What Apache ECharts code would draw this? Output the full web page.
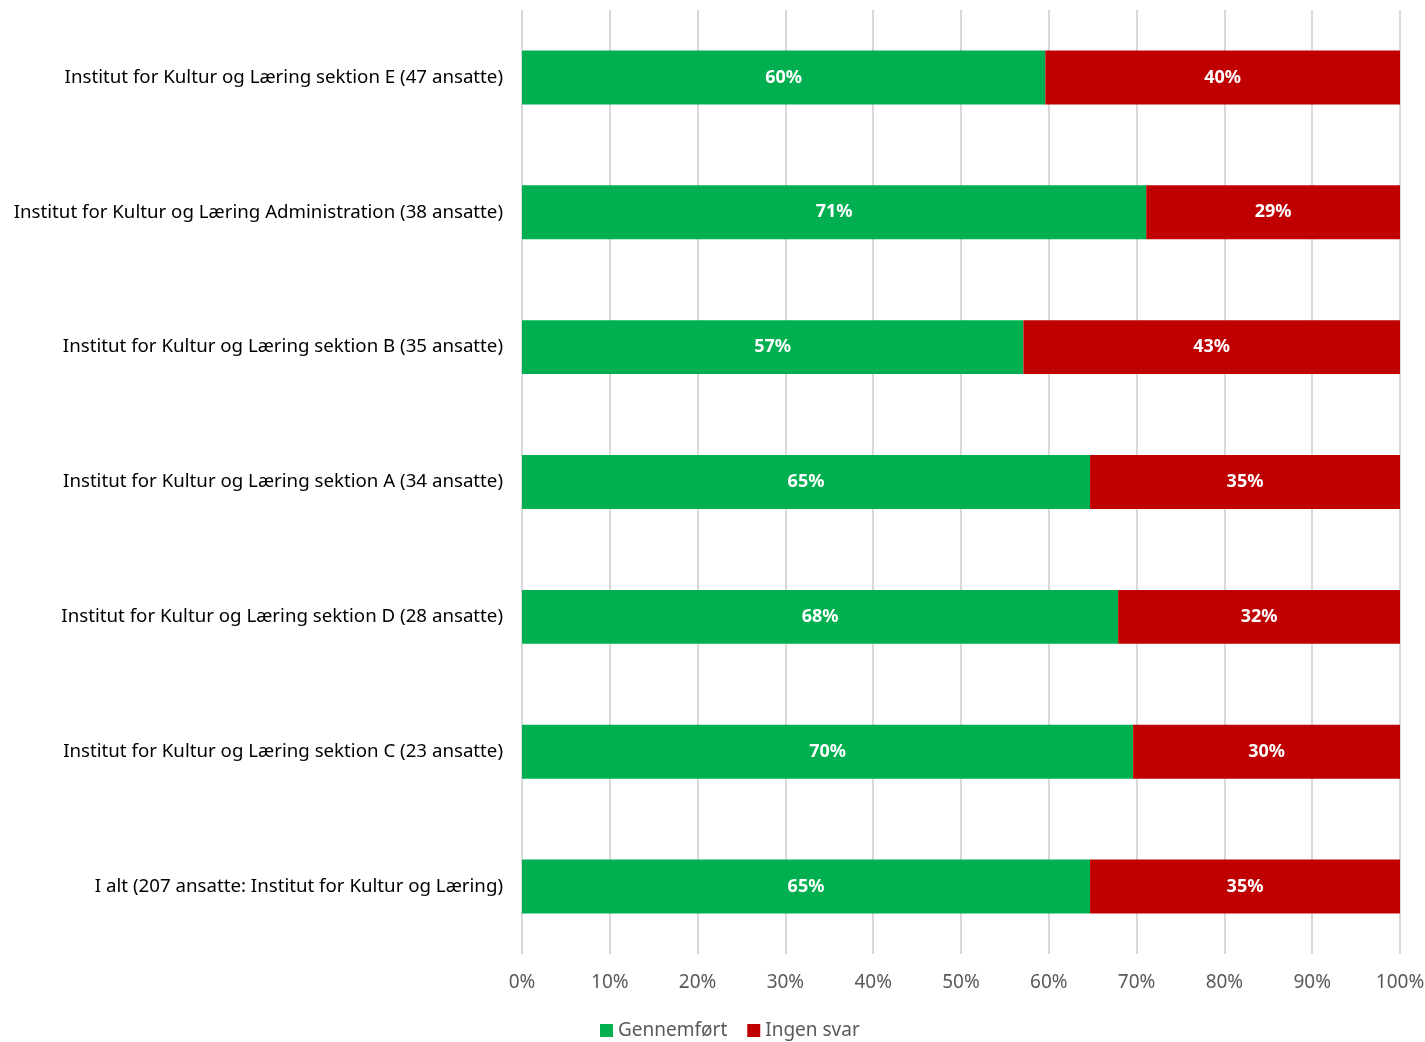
<!DOCTYPE html>
<html><head><meta charset="utf-8">
<script src="https://cdn.jsdelivr.net/npm/echarts@6/dist/echarts.min.js"></script>
<style>html,body{margin:0;padding:0;background:#fff}#c{width:1425px;height:1042px}</style>
</head><body><div id="c"></div>
<script>
const categories = [
  "Institut for Kultur og Læring sektion E (47 ansatte)",
  "Institut for Kultur og Læring Administration (38 ansatte)",
  "Institut for Kultur og Læring sektion B (35 ansatte)",
  "Institut for Kultur og Læring sektion A (34 ansatte)",
  "Institut for Kultur og Læring sektion D (28 ansatte)",
  "Institut for Kultur og Læring sektion C (23 ansatte)",
  "I alt (207 ansatte: Institut for Kultur og Læring)"
];
const gennemfort = [59.6, 71.1, 57.1, 64.7, 67.9, 69.6, 64.7];
const ingenSvar = [40.4, 28.9, 42.9, 35.3, 32.1, 30.4, 35.3];
const seriesNames = ["Gennemført", "Ingen svar"];
const colors = ["#00B050", "#C00000"];

const font = "'Noto Sans', 'Open Sans', sans-serif";
const chart = echarts.init(document.getElementById('c'), null, {renderer: 'canvas'});
const lbl = {
  show: true, position: 'inside', color: '#fff', fontWeight: 'bold',
  fontSize: 18, fontFamily: font,
  formatter: p => Math.round(p.value) + '%'
};
chart.setOption({
  animation: false,
  color: colors,
  grid: {left: 522, right: 25, top: 10, bottom: 88, containLabel: false, outerBoundsMode: 'none'},
  legend: {
    top: 1021, left: 600, itemWidth: 13, itemHeight: 13, itemGap: 20,
    icon: 'rect', padding: 0,
    textStyle: {fontSize: 19, color: '#595959', fontFamily: font},
    data: seriesNames
  },
  xAxis: {
    type: 'value', min: 0, max: 100, interval: 10,
    axisLabel: {formatter: '{value}%', fontSize: 19, color: '#595959', fontFamily: font, margin: 19},
    splitLine: {lineStyle: {color: '#d9d9d9', width: 2}},
    axisLine: {show: false}, axisTick: {show: false}
  },
  yAxis: {
    type: 'category', inverse: true, data: categories,
    axisLabel: {fontSize: 18.7, color: '#000', fontFamily: font, margin: 19},
    axisLine: {show: false}, axisTick: {show: false}
  },
  series: [
    {name: seriesNames[0], type: 'bar', stack: 't', barWidth: '40%', data: gennemfort, label: lbl},
    {name: seriesNames[1], type: 'bar', stack: 't', barWidth: '40%', data: ingenSvar, label: lbl}
  ]
});
</script></body></html>
